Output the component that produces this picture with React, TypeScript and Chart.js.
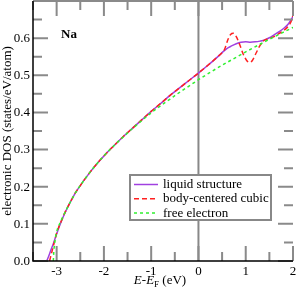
import React, { useEffect, useRef } from "react";
import { Chart, registerables } from "chart.js";

Chart.register(...registerables);

// ---- data ----
const xTickLabels = [-3, -2, -1, 0, 1, 2];
const yTickLabels = [0, 0.1, 0.2, 0.3, 0.4, 0.5, 0.6];

const seriesNames = ["liquid structure", "body-centered cubic", "free electron"];

const liquidE = [-3.21, -3.17, -3.12, -3.06, -3.0, -2.9, -2.8, -2.7, -2.6, -2.5, -2.4, -2.3, -2.2, -2.0, -1.8, -1.6, -1.4, -1.2, -1.0, -0.8, -0.6, -0.4, -0.2, 0, 0.2, 0.4, 0.5, 0.6, 0.7, 0.8, 0.9, 1.0, 1.1, 1.2, 1.3, 1.4, 1.5, 1.6, 1.7, 1.8, 1.9, 2.0];
const liquidDOS = [0, 0.012, 0.03, 0.05, 0.073, 0.107, 0.136, 0.161, 0.184, 0.203, 0.221, 0.238, 0.254, 0.283, 0.309, 0.334, 0.357, 0.38, 0.403, 0.424, 0.446, 0.466, 0.486, 0.506, 0.527, 0.549, 0.561, 0.572, 0.579, 0.585, 0.589, 0.59, 0.589, 0.59, 0.592, 0.595, 0.601, 0.609, 0.617, 0.626, 0.638, 0.658];

const bccE = [-3.15, -3.12, -3.08, -3.04, -3.0, -2.9, -2.8, -2.7, -2.6, -2.5, -2.4, -2.3, -2.2, -2.0, -1.8, -1.6, -1.4, -1.2, -1.0, -0.8, -0.6, -0.4, -0.2, 0, 0.2, 0.4, 0.5, 0.55, 0.62, 0.68, 0.74, 0.8, 0.88, 0.95, 1.02, 1.08, 1.14, 1.22, 1.3, 1.4, 1.47, 1.6, 1.7, 1.8, 1.9, 1.96, 2.0];
const bccDOS = [0, 0.015, 0.035, 0.055, 0.075, 0.108, 0.137, 0.161, 0.184, 0.203, 0.221, 0.238, 0.254, 0.283, 0.309, 0.334, 0.357, 0.38, 0.403, 0.424, 0.446, 0.466, 0.486, 0.506, 0.527, 0.549, 0.561, 0.569, 0.595, 0.61, 0.613, 0.604, 0.58, 0.556, 0.54, 0.535, 0.54, 0.56, 0.58, 0.595, 0.598, 0.604, 0.612, 0.62, 0.632, 0.645, 0.662];

const freeE = [-3.07, -3.06, -3.04, -3.0, -2.9, -2.8, -2.7, -2.6, -2.5, -2.4, -2.3, -2.2, -2.0, -1.8, -1.6, -1.4, -1.2, -1.0, -0.8, -0.6, -0.4, -0.2, 0, 0.25, 0.5, 0.75, 1.0, 1.25, 1.5, 1.75, 2.0];
const freeDOS = [0, 0.025, 0.05, 0.078, 0.11, 0.137, 0.161, 0.184, 0.203, 0.221, 0.238, 0.254, 0.283, 0.309, 0.333, 0.356, 0.378, 0.399, 0.418, 0.436, 0.454, 0.471, 0.488, 0.508, 0.527, 0.545, 0.563, 0.58, 0.597, 0.613, 0.629];

const SERIF = "'Liberation Serif', 'DejaVu Serif', serif";
const COLORS = ["#a040e0", "#ff2020", "#30f030"];
const DASHES: number[][] = [[], [5, 3], [3, 3]];

function toPoints(xs: number[], ys: number[]) {
  return xs.map((x, i) => ({ x, y: ys[i] }));
}

const overlayPlugin = {
  id: "overlay",
  beforeDatasetsDraw(chart: any) {
    const { ctx, chartArea: a, scales } = chart;
    const x0 = scales.x.getPixelForValue(0);
    ctx.save();
    ctx.strokeStyle = "#888";
    ctx.lineWidth = 2;
    ctx.beginPath();
    ctx.moveTo(x0, a.top);
    ctx.lineTo(x0, a.bottom);
    ctx.stroke();
    ctx.restore();
  },
  afterDraw(chart: any) {
    const { ctx, chartArea: a, scales } = chart;
    const xs = scales.x;
    const ys = scales.y;
    ctx.save();
    // ticks (inward, all four sides)
    ctx.strokeStyle = "#8a8a8a";
    ctx.lineWidth = 2;
    const isMajor = (v: number, step: number) => Math.abs(v / step - Math.round(v / step)) < 1e-6;
    xs.ticks.forEach((t: any) => {
      const px = xs.getPixelForValue(t.value);
      const len = isMajor(t.value, 1) ? 15 : 9;
      ctx.beginPath();
      ctx.moveTo(px, a.bottom);
      ctx.lineTo(px, a.bottom - len);
      ctx.moveTo(px, a.top);
      ctx.lineTo(px, a.top + len);
      ctx.stroke();
    });
    ys.ticks.forEach((t: any) => {
      const py = ys.getPixelForValue(t.value);
      const len = isMajor(t.value, 0.1) ? 15 : 9;
      ctx.beginPath();
      ctx.moveTo(a.left, py);
      ctx.lineTo(a.left + len, py);
      ctx.moveTo(a.right, py);
      ctx.lineTo(a.right - len, py);
      ctx.stroke();
    });
    // top border grey
    ctx.beginPath();
    ctx.moveTo(a.left, a.top);
    ctx.lineTo(a.right, a.top);
    ctx.stroke();
    // left & bottom spines black
    ctx.strokeStyle = "#000";
    ctx.lineWidth = 1.5;
    ctx.beginPath();
    ctx.moveTo(a.left, a.top);
    ctx.lineTo(a.left, a.bottom);
    ctx.lineTo(a.right, a.bottom);
    ctx.stroke();

    // tick labels
    ctx.fillStyle = "#000";
    ctx.font = `13px ${SERIF}`;
    ctx.textAlign = "right";
    ctx.textBaseline = "middle";
    yTickLabels.forEach((v) => {
      ctx.fillText(v.toFixed(1), a.left - 3, ys.getPixelForValue(v) + 0.5);
    });
    ctx.textAlign = "center";
    ctx.textBaseline = "top";
    xTickLabels.forEach((v) => {
      ctx.fillText(String(v), xs.getPixelForValue(v), a.bottom + 4);
    });

    // y title
    ctx.save();
    ctx.translate(8, (a.top + a.bottom) / 2);
    ctx.rotate(-Math.PI / 2);
    ctx.textAlign = "center";
    ctx.textBaseline = "middle";
    ctx.font = `13px ${SERIF}`;
    ctx.fillText("electronic DOS (states/eV/atom)", 0, 0);
    ctx.restore();

    // x title: E-E_F (eV)
    const parts = [
      { t: "E", f: `italic 13px ${SERIF}`, dy: 0 },
      { t: "-", f: `13px ${SERIF}`, dy: 0 },
      { t: "E", f: `italic 13px ${SERIF}`, dy: 0 },
      { t: "F", f: `9px ${SERIF}`, dy: 3 },
      { t: " (eV)", f: `13px ${SERIF}`, dy: 0 },
    ];
    let total = 0;
    parts.forEach((p) => {
      ctx.font = p.f;
      total += ctx.measureText(p.t).width;
    });
    let cx = (a.left + a.right) / 2 - 3 - total / 2;
    ctx.textAlign = "left";
    ctx.textBaseline = "alphabetic";
    const base = a.bottom + 23;
    parts.forEach((p) => {
      ctx.font = p.f;
      ctx.fillText(p.t, cx, base + p.dy);
      cx += ctx.measureText(p.t).width;
    });

    // Na label
    ctx.font = `bold 13px ${SERIF}`;
    ctx.fillText("Na", 61, 38);

    // legend
    const lx = 130, ly = 175, lw = 141, lh = 45;
    ctx.fillStyle = "#fff";
    ctx.fillRect(lx, ly, lw, lh);
    ctx.strokeStyle = "#888";
    ctx.lineWidth = 2;
    ctx.strokeRect(lx, ly, lw, lh);
    ctx.font = `13px ${SERIF}`;
    ctx.textBaseline = "middle";
    seriesNames.forEach((name, i) => {
      const y = ly + 9.5 + i * 14.3;
      ctx.strokeStyle = COLORS[i];
      ctx.lineWidth = 1.5;
      ctx.setLineDash(DASHES[i]);
      ctx.beginPath();
      ctx.moveTo(lx + 4, y);
      ctx.lineTo(lx + 28, y);
      ctx.stroke();
      ctx.setLineDash([]);
      ctx.fillStyle = "#000";
      ctx.fillText(name, lx + 33, y);
    });
    ctx.restore();
  },
};

export default function App() {
  const ref = useRef<HTMLCanvasElement | null>(null);
  useEffect(() => {
    if (!ref.current) return;
    const mk = (i: number, xsArr: number[], ysArr: number[]) => ({
      label: seriesNames[i],
      data: toPoints(xsArr, ysArr),
      borderColor: COLORS[i],
      borderWidth: 1.5,
      borderDash: DASHES[i],
      pointRadius: 0,
      fill: false,
      cubicInterpolationMode: "monotone" as const,
    });
    const chart = new Chart(ref.current, {
      type: "line",
      data: {
        datasets: [
          mk(2, freeE, freeDOS),
          mk(1, bccE, bccDOS),
          mk(0, liquidE, liquidDOS),
        ],
      },
      options: {
        responsive: false,
        animation: false,
        devicePixelRatio: 1,
        layout: { padding: { left: 33, right: 4, top: 1, bottom: 30 } },
        plugins: { legend: { display: false }, tooltip: { enabled: false } },
        scales: {
          x: {
            type: "linear",
            min: -3.5,
            max: 2,
            ticks: { display: false, stepSize: 0.5 },
            grid: { display: false, drawTicks: false },
            border: { display: false },
          },
          y: {
            type: "linear",
            min: 0,
            max: 0.7,
            ticks: { display: false, stepSize: 0.05 },
            grid: { display: false, drawTicks: false },
            border: { display: false },
          },
        },
      },
      plugins: [overlayPlugin],
    });
    return () => chart.destroy();
  }, []);
  return (
    <div style={{ position: "fixed", left: 0, top: 0, width: 297, height: 291, background: "#fff" }}>
      <canvas ref={ref} width={297} height={291} style={{ width: 297, height: 291, display: "block" }} />
    </div>
  );
}
